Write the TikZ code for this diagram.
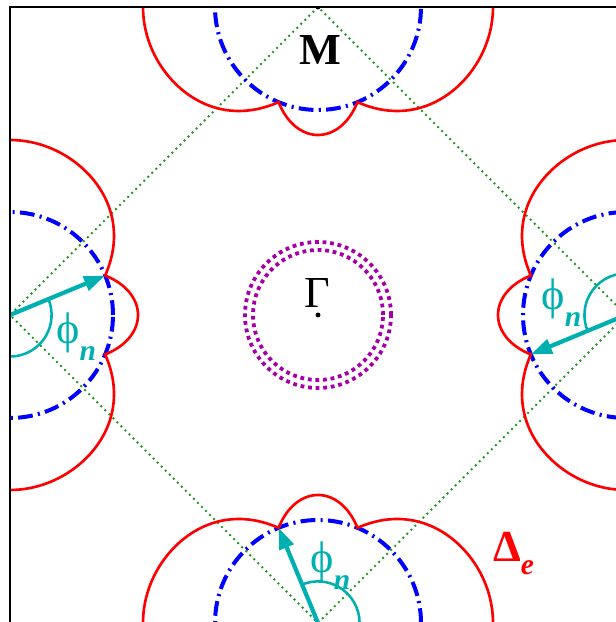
\documentclass[tikz,border=0pt]{standalone}
\usepackage{fontspec}
\setmainfont{Liberation Serif}
\usetikzlibrary{arrows.meta}
\definecolor{bzgreen}{RGB}{30,150,30}
\definecolor{holemag}{RGB}{165,0,165}
\definecolor{nodecyan}{RGB}{0,176,176}
\newcommand{\bigfont}{\fontsize{21}{24}\selectfont}
\newcommand{\subfont}{\fontsize{14}{16}\selectfont\bfseries\itshape}
\newcommand{\phin}{ϕ\raisebox{-8pt}{\subfont n}}

\begin{document}
\begin{tikzpicture}[x=5.133cm,y=5.133cm,
	declare function={gapr(\t)=0.3344+abs((cos(2*\t)-0.7071)*(0.18367+0.0701*cos(2*\t)+0.02334*cos(2*\t)*cos(2*\t)));},
	gapline/.style={red,line width=1.25pt},
	fsline/.style={blue,line width=1.9pt,dash pattern=on 7pt off 2.5pt on 1pt off 2.5pt},
	bzline/.style={bzgreen,line width=0.9pt,dash pattern=on 0.9pt off 1.8pt},
	holeline/.style={holemag,line width=1.8pt,dash pattern=on 1.8pt off 1.8pt},
	nodearrow/.style={nodecyan,line width=2pt,-{Triangle[length=10pt,width=7pt]}},
	anglearc/.style={nodecyan,line width=1.2pt},
	philabel/.style={nodecyan,font=\bigfont,inner sep=0pt}]
	\useasboundingbox (-1.0325,-0.9968) rectangle (0.9643,1.0227);
	\coordinate (G) at (0,0);
	\coordinate (Mt) at (0,1);
	\coordinate (Ml) at (-1,0);
	\coordinate (Mb) at (0,-1);
	\coordinate (Mr) at (1,0);
	\begin{scope}
		\clip (-1,-1) rectangle (1,1);
		% zone boundary
		\draw [bzline] (Mt) -- (Ml) -- (Mb) -- (Mr) -- cycle;
		% hole pockets at Gamma
		\draw [holeline] (G) circle (0.237);
		\draw [holeline] (G) circle (0.211);
		% electron pockets and gap at M
		\foreach \m/\rot in {Mt/-90,Ml/0,Mb/90,Mr/180}{
			\draw [fsline] (\m) circle (0.3344);
			\draw [gapline,shift={(\m)},rotate=\rot] plot[domain=0:360,samples=721] (\x:{gapr(\x)});
		}
		\foreach \m/\rot in {Ml/0,Mb/90,Mr/180}{
			\draw [anglearc] ([shift={(\rot-90:0.135)}]\m) arc[start angle=\rot-90,end angle=\rot+22.5,radius=0.135];
			\draw [nodearrow] (\m) -- ([shift={(\rot+22.5:0.3344)}]\m);
		}
		\fill (G) circle (0.008);
		\fill (Mt) circle (0.008);
	\end{scope}
	\draw [line width=0.8pt] (-1,-1.1) -- (-1,1) -- (1.1,1);
	\node (Mlabel) at (0.0065,0.86) {\bigfont\bfseries M};
	\node (Glabel) at (-0.003,0.071) {\bigfont Γ};
	\node [philabel] (phil) at ([shift={(0.215,-0.07)}]Ml) {\phin};
	\node [philabel] (phir) at ([shift={(-0.21,0.04)}]Mr) {\phin};
	\node [philabel] (phib) at ([shift={(0.04,0.185)}]Mb) {\phin};
	\node [red,inner sep=0pt] (gaplabel) at (0.635,-0.775) {\bigfont\bfseries Δ\raisebox{-6pt}{\subfont e}};
\end{tikzpicture}
\end{document}
